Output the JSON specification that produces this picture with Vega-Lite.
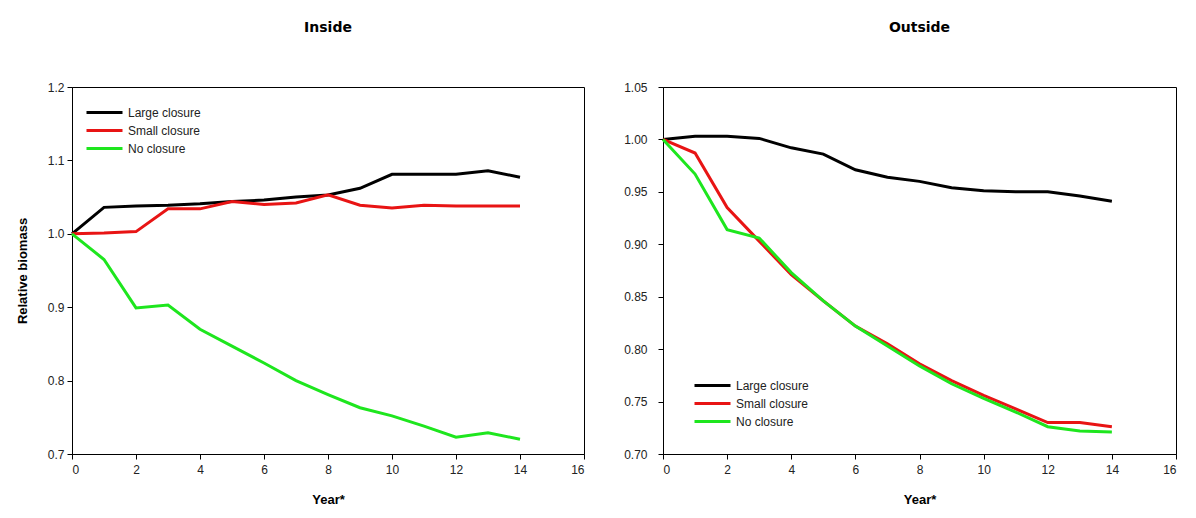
{
  "$schema": "https://vega.github.io/schema/vega-lite/v6.json",
  "background": "white",
  "padding": {"left": 15, "top": 20, "right": 10, "bottom": 10},
  "config": {
    "font": "Liberation Sans",
    "view": {"stroke": "black", "strokeWidth": 1},
    "axis": {
      "grid": false,
      "domainColor": "black",
      "tickColor": "black",
      "tickSize": 5,
      "labelColor": "#222222",
      "labelFont": "Liberation Sans",
      "labelFontSize": 12,
      "titleFont": "Liberation Sans",
      "titleFontSize": 13,
      "titleFontWeight": "bold",
      "titleColor": "black"
    },
    "title": {"font": "DejaVu Sans", "fontSize": 14, "fontWeight": "bold", "color": "black", "anchor": "middle", "offset": 46},
    "legend": {
      "title": null,
      "padding": 0,
      "symbolType": "M-1.8,0H1.8",
      "symbolStrokeWidth": 3,
      "symbolSize": 400,
      "labelFont": "Liberation Sans",
      "labelFontSize": 12,
      "labelColor": "#222222",
      "labelOffset": 12,
      "rowPadding": 0
    }
  },
  "datasets": {
    "biomass": [
      {"zone": "Inside", "series": "Large closure", "year": 0, "biomass": 1.000},
      {"zone": "Inside", "series": "Large closure", "year": 1, "biomass": 1.036},
      {"zone": "Inside", "series": "Large closure", "year": 2, "biomass": 1.038},
      {"zone": "Inside", "series": "Large closure", "year": 3, "biomass": 1.039},
      {"zone": "Inside", "series": "Large closure", "year": 4, "biomass": 1.041},
      {"zone": "Inside", "series": "Large closure", "year": 5, "biomass": 1.044},
      {"zone": "Inside", "series": "Large closure", "year": 6, "biomass": 1.046},
      {"zone": "Inside", "series": "Large closure", "year": 7, "biomass": 1.050},
      {"zone": "Inside", "series": "Large closure", "year": 8, "biomass": 1.053},
      {"zone": "Inside", "series": "Large closure", "year": 9, "biomass": 1.062},
      {"zone": "Inside", "series": "Large closure", "year": 10, "biomass": 1.081},
      {"zone": "Inside", "series": "Large closure", "year": 11, "biomass": 1.081},
      {"zone": "Inside", "series": "Large closure", "year": 12, "biomass": 1.081},
      {"zone": "Inside", "series": "Large closure", "year": 13, "biomass": 1.086},
      {"zone": "Inside", "series": "Large closure", "year": 14, "biomass": 1.077},
      {"zone": "Inside", "series": "Small closure", "year": 0, "biomass": 1.000},
      {"zone": "Inside", "series": "Small closure", "year": 1, "biomass": 1.001},
      {"zone": "Inside", "series": "Small closure", "year": 2, "biomass": 1.003},
      {"zone": "Inside", "series": "Small closure", "year": 3, "biomass": 1.034},
      {"zone": "Inside", "series": "Small closure", "year": 4, "biomass": 1.034},
      {"zone": "Inside", "series": "Small closure", "year": 5, "biomass": 1.044},
      {"zone": "Inside", "series": "Small closure", "year": 6, "biomass": 1.040},
      {"zone": "Inside", "series": "Small closure", "year": 7, "biomass": 1.042},
      {"zone": "Inside", "series": "Small closure", "year": 8, "biomass": 1.053},
      {"zone": "Inside", "series": "Small closure", "year": 9, "biomass": 1.039},
      {"zone": "Inside", "series": "Small closure", "year": 10, "biomass": 1.035},
      {"zone": "Inside", "series": "Small closure", "year": 11, "biomass": 1.039},
      {"zone": "Inside", "series": "Small closure", "year": 12, "biomass": 1.038},
      {"zone": "Inside", "series": "Small closure", "year": 13, "biomass": 1.038},
      {"zone": "Inside", "series": "Small closure", "year": 14, "biomass": 1.038},
      {"zone": "Inside", "series": "No closure", "year": 0, "biomass": 1.000},
      {"zone": "Inside", "series": "No closure", "year": 1, "biomass": 0.965},
      {"zone": "Inside", "series": "No closure", "year": 2, "biomass": 0.899},
      {"zone": "Inside", "series": "No closure", "year": 3, "biomass": 0.903},
      {"zone": "Inside", "series": "No closure", "year": 4, "biomass": 0.870},
      {"zone": "Inside", "series": "No closure", "year": 5, "biomass": 0.847},
      {"zone": "Inside", "series": "No closure", "year": 6, "biomass": 0.824},
      {"zone": "Inside", "series": "No closure", "year": 7, "biomass": 0.800},
      {"zone": "Inside", "series": "No closure", "year": 8, "biomass": 0.781},
      {"zone": "Inside", "series": "No closure", "year": 9, "biomass": 0.763},
      {"zone": "Inside", "series": "No closure", "year": 10, "biomass": 0.752},
      {"zone": "Inside", "series": "No closure", "year": 11, "biomass": 0.738},
      {"zone": "Inside", "series": "No closure", "year": 12, "biomass": 0.723},
      {"zone": "Inside", "series": "No closure", "year": 13, "biomass": 0.729},
      {"zone": "Inside", "series": "No closure", "year": 14, "biomass": 0.720},
      {"zone": "Outside", "series": "Large closure", "year": 0, "biomass": 1.000},
      {"zone": "Outside", "series": "Large closure", "year": 1, "biomass": 1.003},
      {"zone": "Outside", "series": "Large closure", "year": 2, "biomass": 1.003},
      {"zone": "Outside", "series": "Large closure", "year": 3, "biomass": 1.001},
      {"zone": "Outside", "series": "Large closure", "year": 4, "biomass": 0.992},
      {"zone": "Outside", "series": "Large closure", "year": 5, "biomass": 0.986},
      {"zone": "Outside", "series": "Large closure", "year": 6, "biomass": 0.971},
      {"zone": "Outside", "series": "Large closure", "year": 7, "biomass": 0.964},
      {"zone": "Outside", "series": "Large closure", "year": 8, "biomass": 0.960},
      {"zone": "Outside", "series": "Large closure", "year": 9, "biomass": 0.954},
      {"zone": "Outside", "series": "Large closure", "year": 10, "biomass": 0.951},
      {"zone": "Outside", "series": "Large closure", "year": 11, "biomass": 0.950},
      {"zone": "Outside", "series": "Large closure", "year": 12, "biomass": 0.950},
      {"zone": "Outside", "series": "Large closure", "year": 13, "biomass": 0.946},
      {"zone": "Outside", "series": "Large closure", "year": 14, "biomass": 0.941},
      {"zone": "Outside", "series": "Small closure", "year": 0, "biomass": 1.000},
      {"zone": "Outside", "series": "Small closure", "year": 1, "biomass": 0.987},
      {"zone": "Outside", "series": "Small closure", "year": 2, "biomass": 0.935},
      {"zone": "Outside", "series": "Small closure", "year": 3, "biomass": 0.903},
      {"zone": "Outside", "series": "Small closure", "year": 4, "biomass": 0.871},
      {"zone": "Outside", "series": "Small closure", "year": 5, "biomass": 0.846},
      {"zone": "Outside", "series": "Small closure", "year": 6, "biomass": 0.822},
      {"zone": "Outside", "series": "Small closure", "year": 7, "biomass": 0.805},
      {"zone": "Outside", "series": "Small closure", "year": 8, "biomass": 0.786},
      {"zone": "Outside", "series": "Small closure", "year": 9, "biomass": 0.770},
      {"zone": "Outside", "series": "Small closure", "year": 10, "biomass": 0.756},
      {"zone": "Outside", "series": "Small closure", "year": 11, "biomass": 0.743},
      {"zone": "Outside", "series": "Small closure", "year": 12, "biomass": 0.730},
      {"zone": "Outside", "series": "Small closure", "year": 13, "biomass": 0.730},
      {"zone": "Outside", "series": "Small closure", "year": 14, "biomass": 0.726},
      {"zone": "Outside", "series": "No closure", "year": 0, "biomass": 1.000},
      {"zone": "Outside", "series": "No closure", "year": 1, "biomass": 0.967},
      {"zone": "Outside", "series": "No closure", "year": 2, "biomass": 0.914},
      {"zone": "Outside", "series": "No closure", "year": 3, "biomass": 0.906},
      {"zone": "Outside", "series": "No closure", "year": 4, "biomass": 0.873},
      {"zone": "Outside", "series": "No closure", "year": 5, "biomass": 0.846},
      {"zone": "Outside", "series": "No closure", "year": 6, "biomass": 0.822},
      {"zone": "Outside", "series": "No closure", "year": 7, "biomass": 0.803},
      {"zone": "Outside", "series": "No closure", "year": 8, "biomass": 0.784},
      {"zone": "Outside", "series": "No closure", "year": 9, "biomass": 0.767},
      {"zone": "Outside", "series": "No closure", "year": 10, "biomass": 0.753},
      {"zone": "Outside", "series": "No closure", "year": 11, "biomass": 0.740},
      {"zone": "Outside", "series": "No closure", "year": 12, "biomass": 0.726},
      {"zone": "Outside", "series": "No closure", "year": 13, "biomass": 0.722},
      {"zone": "Outside", "series": "No closure", "year": 14, "biomass": 0.721}
    ]
  },
  "spacing": 38,
  "resolve": {
    "scale": {"color": "independent", "y": "independent", "x": "independent"},
    "legend": {"color": "independent"}
  },
  "hconcat": [
    {
      "width": 512,
      "height": 367,
      "title": {"text": "Inside"},
      "data": {"name": "biomass"},
      "transform": [{"filter": "datum.zone === 'Inside'"}],
      "mark": {"type": "line", "strokeWidth": 3},
      "encoding": {
        "x": {
          "field": "year", "type": "quantitative",
          "scale": {"domain": [0, 16], "nice": false},
          "axis": {"values": [0, 2, 4, 6, 8, 10, 12, 14, 16], "title": "Year*", "titlePadding": 18, "labelPadding": 5}
        },
        "y": {
          "field": "biomass", "type": "quantitative",
          "scale": {"domain": [0.7, 1.2], "nice": false, "zero": false},
          "axis": {"values": [0.7, 0.8, 0.9, 1.0, 1.1, 1.2], "format": ".1f", "title": "Relative biomass", "titlePadding": 18, "labelPadding": 3}
        },
        "color": {
          "field": "series", "type": "nominal",
          "scale": {"domain": ["Large closure", "Small closure", "No closure"], "range": ["#000000", "#e81414", "#1ee61e"]},
          "legend": {"orient": "none", "legendX": 21, "legendY": 14}
        }
      }
    },
    {
      "width": 513,
      "height": 367,
      "title": {"text": "Outside"},
      "data": {"name": "biomass"},
      "transform": [{"filter": "datum.zone === 'Outside'"}],
      "mark": {"type": "line", "strokeWidth": 3},
      "encoding": {
        "x": {
          "field": "year", "type": "quantitative",
          "scale": {"domain": [0, 16], "nice": false},
          "axis": {"values": [0, 2, 4, 6, 8, 10, 12, 14, 16], "title": "Year*", "titlePadding": 18, "labelPadding": 5}
        },
        "y": {
          "field": "biomass", "type": "quantitative",
          "scale": {"domain": [0.7, 1.05], "nice": false, "zero": false},
          "axis": {"values": [0.7, 0.75, 0.8, 0.85, 0.9, 0.95, 1.0, 1.05], "format": ".2f", "title": null, "labelPadding": 11}
        },
        "color": {
          "field": "series", "type": "nominal",
          "scale": {"domain": ["Large closure", "Small closure", "No closure"], "range": ["#000000", "#e81414", "#1ee61e"]},
          "legend": {"orient": "none", "legendX": 38, "legendY": 287}
        }
      }
    }
  ]
}
